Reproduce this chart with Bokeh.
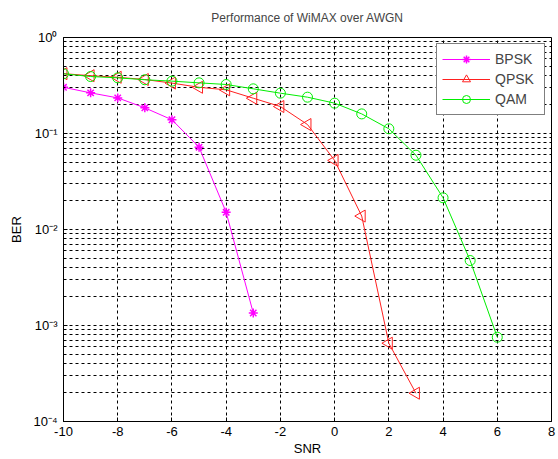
import math
from bokeh.plotting import figure
from bokeh.models import FixedTicker, CustomJSTickFormatter, Range1d
from bokeh.embed import file_html
from bokeh.resources import INLINE

# ---- data ----
snr_bpsk = [-10, -9, -8, -7, -6, -5, -4, -3]
ber_bpsk = [0.303, 0.265, 0.235, 0.185, 0.139, 0.072, 0.0151, 0.00135]

snr_qpsk = [-10, -9, -8, -7, -6, -5, -4, -3, -2, -1, 0, 1, 2, 3]
ber_qpsk = [0.42, 0.40, 0.385, 0.365, 0.335, 0.303, 0.285, 0.233, 0.191, 0.124, 0.0524, 0.0138, 0.000654, 0.000197]

snr_qam = [-10, -9, -8, -7, -6, -5, -4, -3, -2, -1, 0, 1, 2, 3, 4, 5, 6]
ber_qam = [0.419, 0.392, 0.380, 0.363, 0.351, 0.337, 0.324, 0.292, 0.263, 0.239, 0.207, 0.160, 0.112, 0.0594, 0.0214, 0.00475, 0.000755]

x_ticks = [-10, -8, -6, -4, -2, 0, 2, 4, 6, 8]
y_decades = [1e-4, 1e-3, 1e-2, 1e-1, 1e0]
y_minor = [m * d for d in y_decades[:-1] for m in range(2, 10)]

FONT = "Liberation Sans"

p = figure(width=558, height=459, y_axis_type="log",
           x_range=Range1d(-10, 8), y_range=Range1d(1e-4, 1),
           output_backend="svg", toolbar_location=None,
           min_border_left=63, min_border_right=7,
           min_border_top=37, min_border_bottom=38,
           title="Performance of WiMAX over AWGN")

p.title.text_font = FONT
p.title.text_font_size = "12px"
p.title.text_font_style = "normal"
p.title.align = "center"
p.title.vertical_align = "top"
p.title.offset = 0
p.title.standoff = 21

p.outline_line_color = "black"
p.outline_line_alpha = 1
p.outline_line_width = 1
p.background_fill_color = "white"
p.border_fill_color = "white"

p.xaxis.ticker = FixedTicker(ticks=x_ticks)
p.yaxis.ticker = FixedTicker(ticks=y_decades, minor_ticks=y_minor)
p.yaxis.formatter = CustomJSTickFormatter(code="""
const e = Math.round(Math.log10(tick));
const sup = {"-":"\u207b","0":"\u2070","1":"\u00b9","2":"\u00b2","3":"\u00b3","4":"\u2074","5":"\u2075","6":"\u2076","7":"\u2077","8":"\u2078","9":"\u2079"};
return "10" + String(e).split("").map(c => sup[c]).join("");
""")
p.xaxis.formatter = CustomJSTickFormatter(code="return String(tick);")

for ax in (p.xaxis, p.yaxis):
    ax.axis_line_color = "black"
    ax.major_tick_in = 4
    ax.major_tick_out = 0
    ax.minor_tick_in = 2
    ax.minor_tick_out = 0
    ax.major_label_text_font = FONT
    ax.major_label_text_font_size = "13px"
    ax.major_label_text_color = "black"
    ax.axis_label_text_font = FONT
    ax.axis_label_text_font_size = "13px"
    ax.axis_label_text_font_style = "normal"
    ax.axis_label_text_color = "black"

p.xaxis.axis_label = "SNR"
p.yaxis.axis_label = "BER"
p.xaxis.major_label_standoff = 5
p.xaxis.axis_label_standoff = 2
p.yaxis.major_label_standoff = 6
p.yaxis.axis_label_standoff = 6

p.xgrid.grid_line_color = "black"
p.xgrid.grid_line_dash = "3 3"
p.xgrid.grid_line_width = 1
p.ygrid.grid_line_color = "black"
p.ygrid.grid_line_dash = "3 3"
p.ygrid.grid_line_width = 1
p.ygrid.minor_grid_line_color = "black"
p.ygrid.minor_grid_line_dash = "3 3"
p.ygrid.minor_grid_line_width = 1

p.line(snr_bpsk, ber_bpsk, color="#ff00ff", line_width=1, legend_label="BPSK")
p.scatter(snr_bpsk, ber_bpsk, marker="asterisk", size=9, line_color="#ff00ff", line_width=1.5, legend_label="BPSK")

p.line(snr_qpsk, ber_qpsk, color="#ff2020", line_width=1, legend_label="QPSK")
p.scatter(snr_qpsk, ber_qpsk, marker="triangle", angle=math.pi / 2, size=12, fill_color=None,
          line_color="#ff2020", line_width=1, legend_label="QPSK")

p.line(snr_qam, ber_qam, color="#00ee00", line_width=1, legend_label="QAM")
p.scatter(snr_qam, ber_qam, marker="circle", size=10, fill_color=None,
          line_color="#00ee00", line_width=1, legend_label="QAM")

lg = p.legend[0]
lg.location = "top_right"
lg.margin = 6
lg.padding = 5
lg.spacing = 0
lg.border_line_color = "black"
lg.border_line_width = 1
lg.background_fill_alpha = 1
lg.label_text_font = FONT
lg.label_text_font_size = "14px"
lg.glyph_width = 48
lg.glyph_height = 20
lg.label_height = 20
lg.label_width = 44
lg.label_standoff = 5

open("out.html", "w").write(file_html(p, INLINE))
